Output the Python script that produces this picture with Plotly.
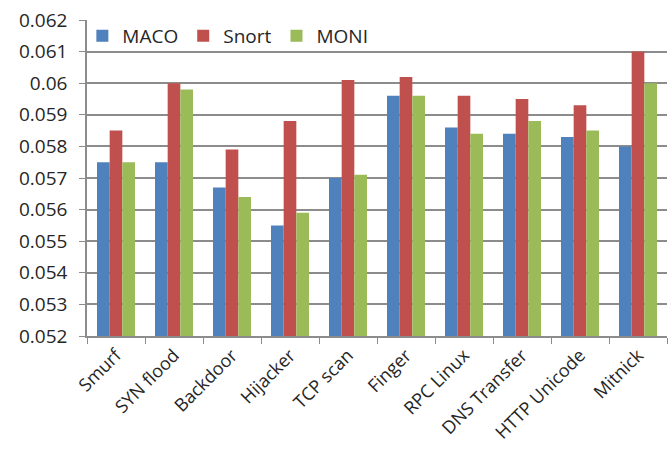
import plotly.graph_objects as go

# Attack types on the category axis
categories = ["Smurf", "SYN flood", "Backdoor", "Hijacker", "TCP scan",
              "Finger", "RPC Linux", "DNS Transfer", "HTTP Unicode", "Mitnick"]

# Values per method
maco = [0.0575, 0.0575, 0.0567, 0.0555, 0.0570, 0.0596, 0.0586, 0.0584, 0.0583, 0.0580]
snort = [0.0585, 0.0600, 0.0579, 0.0588, 0.0601, 0.0602, 0.0596, 0.0595, 0.0593, 0.0610]
moni = [0.0575, 0.0598, 0.0564, 0.0559, 0.0571, 0.0596, 0.0584, 0.0588, 0.0585, 0.0600]

# Y axis ticks and their labels
y_ticks = [0.052, 0.053, 0.054, 0.055, 0.056, 0.057, 0.058, 0.059, 0.060, 0.061, 0.062]
y_tick_labels = ["0.052", "0.053", "0.054", "0.055", "0.056", "0.057",
                 "0.058", "0.059", "0.06", "0.061", "0.062"]

series = [("MACO", maco, "#4F81BD"), ("Snort", snort, "#C0504D"), ("MONI", moni, "#9BBB59")]

fig = go.Figure()
for name, vals, color in series:
    fig.add_trace(go.Bar(
        name=name, x=categories, y=vals,
        marker=dict(color=color, line=dict(width=0)),
    ))

grid = "#8C8C8C"
fig.update_layout(
    width=669, height=450,
    margin=dict(l=87, r=2, t=20, b=114),
    paper_bgcolor="white", plot_bgcolor="white",
    barmode="group", bargap=0.345, bargroupgap=0,
    font=dict(family="Open Sans", color="#262626"),
    showlegend=True,
    legend=dict(orientation="h", x=-0.008, y=0.95, xanchor="left", yanchor="middle",
                font=dict(size=19), bgcolor="rgba(0,0,0,0)",
                itemwidth=30, tracegroupgap=0),
    xaxis=dict(
        type="category", tickangle=-45, tickfont=dict(size=18),
        ticks="outside", tickson="boundaries", ticklen=6, tickcolor=grid,
        showline=True, linecolor=grid, linewidth=1.5, showgrid=False,
    ),
    yaxis=dict(
        range=[0.052, 0.062], tickvals=y_ticks, ticktext=y_tick_labels,
        tickfont=dict(size=19), ticks="outside", ticklen=6, tickcolor=grid,
        ticklabelstandoff=8,
        showline=True, linecolor=grid, linewidth=1.5,
        showgrid=True, gridcolor=grid, gridwidth=1.5, zeroline=False,
    ),
)

fig.write_html("out.html")
